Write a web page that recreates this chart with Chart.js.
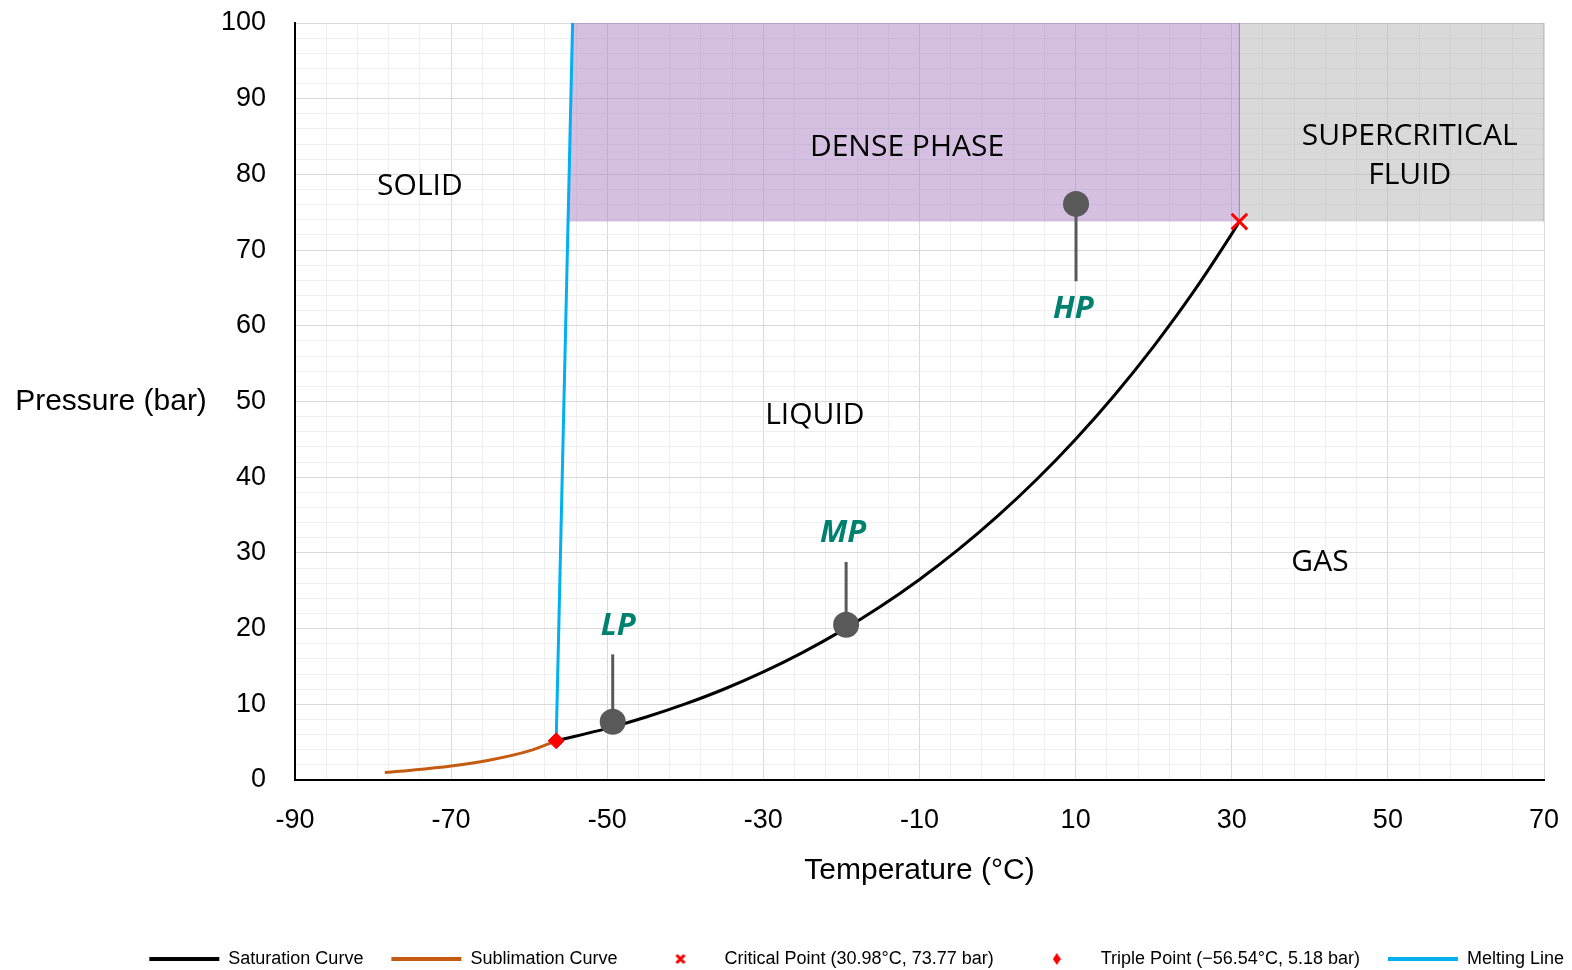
<!DOCTYPE html>
<html>
<head>
<meta charset="utf-8">
<title>CO2 phase diagram</title>
<script src="https://cdn.jsdelivr.net/npm/chart.js@4.4.1/dist/chart.umd.min.js"></script>
<style>
  html, body { margin: 0; padding: 0; background: #fff; }
  #wrap { width: 1572px; height: 970px; }
</style>
</head>
<body>
<div id="wrap"><canvas id="phaseChart" width="1572" height="970"></canvas></div>
<script>
// Saturation curve (liquid / vapour), °C and bar
const satTemp = [-56.54, -50, -45, -40, -35, -30, -25, -20, -15, -10, -5, 0, 5, 10, 15, 20, 25, 30, 30.98];
const satPress = [5.18, 6.82, 8.32, 10.05, 12.02, 14.28, 16.83, 19.7, 22.91, 26.49, 30.46, 34.85, 39.69, 45.02, 50.87, 57.29, 64.34, 72.14, 73.77];

// Sublimation curve
const subTemp = [-78.5, -75, -70, -65, -60, -56.54];
const subPress = [1.0, 1.3, 1.85, 2.65, 3.85, 5.18];

// Melting line
const meltTemp = [-56.54, -54.44];
const meltPress = [5.18, 100];

const criticalPoint = { x: 30.98, y: 73.77 };
const triplePoint = { x: -56.54, y: 5.18 };

// Dense phase / supercritical regions (corners)
const denseTemp = [-55.02, -54.44, 30.98, 30.98];
const densePress = [73.77, 100, 100, 73.77];
const superTemp = [30.98, 30.98, 70, 70];
const superPress = [73.77, 100, 100, 73.77];

// Operating points LP / MP / HP
const opNames = ['LP', 'MP', 'HP'];
const opTemp = [-49.3, -19.4, 10.05];
const opPress = [7.7, 20.5, 76.1];
const opStemEnd = [16.6, 28.8, 65.9];
const opLabelTemp = [-48.6, -19.8, 9.7];
const opLabelPress = [20.3, 32.6, 62.2];

// Region names
const regionNames = [['SOLID'], ['DENSE PHASE'], ['SUPERCRITICAL', 'FLUID'], ['LIQUID'], ['GAS']];
const regionTemp = [-74.0, -11.6, 52.8, -23.4, 41.3];
const regionPress = [78.4, 83.5, 82.4, 48.2, 28.8];

// Axes
const xMin = -90, xMax = 70, xStep = 4, xLabelStep = 20;
const yMin = 0, yMax = 100, yStep = 2, yLabelStep = 10;

const sans = '"Liberation Sans Narrow", "Arial Narrow", "Liberation Sans", Arial, sans-serif';
Chart.defaults.font.family = sans;
Chart.defaults.color = '#000';

function pts(xs, ys) {
    return xs.map((x, i) => ({ x: x, y: ys[i] }));
}

function makeIcon(w, h, draw) {
    const c = document.createElement('canvas');
    c.width = w;
    c.height = h;
    draw(c.getContext('2d'));
    return c;
}

const crossIcon = makeIcon(12, 12, g => {
    g.strokeStyle = '#ff0000';
    g.lineWidth = 3;
    g.beginPath();
    g.moveTo(2, 2); g.lineTo(10, 10);
    g.moveTo(10, 2); g.lineTo(2, 10);
    g.stroke();
});
const diamondIcon = makeIcon(8, 12, g => {
    g.fillStyle = '#ff0000';
    g.beginPath();
    g.moveTo(4, 0); g.lineTo(8, 6); g.lineTo(4, 12); g.lineTo(0, 6);
    g.closePath();
    g.fill();
});

const legendCount = 5;
const markerColor = '#595959';

const datasets = [
    {
        label: 'Saturation Curve',
        data: pts(satTemp, satPress),
        borderColor: '#000', backgroundColor: '#000',
        borderWidth: 3, pointRadius: 0, pointStyle: 'line',
        cubicInterpolationMode: 'monotone', order: 3
    },
    {
        label: 'Sublimation Curve',
        data: pts(subTemp, subPress),
        borderColor: '#c55a11', backgroundColor: '#c55a11',
        borderWidth: 3, pointRadius: 0, pointStyle: 'line',
        cubicInterpolationMode: 'monotone', order: 3
    },
    {
        label: 'Critical Point (30.98°C, 73.77 bar)',
        data: [criticalPoint],
        showLine: false, pointStyle: 'crossRot', pointRadius: 11,
        borderColor: '#ff0000', backgroundColor: '#ff0000', borderWidth: 3, order: 1
    },
    {
        label: 'Triple Point (\u221256.54°C, 5.18 bar)',
        data: [triplePoint],
        showLine: false, pointStyle: 'rectRot', pointRadius: 8,
        borderColor: '#ff0000', backgroundColor: '#ff0000', borderWidth: 1, order: 1
    },
    {
        label: 'Melting Line',
        data: pts(meltTemp, meltPress),
        borderColor: '#00b0f0', backgroundColor: '#00b0f0',
        borderWidth: 3, pointRadius: 0, pointStyle: 'line', order: 3
    },
    {
        label: 'points',
        data: pts(opTemp, opPress),
        showLine: false, pointRadius: 13,
        backgroundColor: markerColor, borderColor: markerColor, borderWidth: 0, order: 2
    },
    {
        label: 'dense',
        data: pts(denseTemp, densePress),
        fill: { value: criticalPoint.y },
        backgroundColor: 'rgba(171,129,197,0.5)', borderColor: 'rgba(150,110,180,0.35)',
        borderWidth: 1, pointRadius: 0, order: 10
    },
    {
        label: 'super',
        data: pts(superTemp, superPress),
        fill: { value: criticalPoint.y },
        backgroundColor: 'rgba(180,180,180,0.5)', borderColor: 'rgba(170,170,170,0.4)',
        borderWidth: 1, pointRadius: 0, order: 10
    }
];

// stems from the operating points to their labels
opTemp.forEach((t, i) => {
    datasets.push({
        label: 'stem ' + opNames[i],
        data: [{ x: t, y: opPress[i] }, { x: t, y: opStemEnd[i] }],
        borderColor: markerColor, borderWidth: 3, pointRadius: 0, order: 4
    });
});

const labelPlugin = {
    id: 'phaseLabels',
    afterLayout(chart) {
        // legend sits a little right of centre in the original
        chart.legend.left += 20;
        chart.legend.right += 20;
    },
    afterDatasetsDraw(chart) {
        const ctx = chart.ctx;
        const x = chart.scales.x, y = chart.scales.y;
        ctx.save();
        ctx.textAlign = 'center';
        ctx.textBaseline = 'middle';

        ctx.fillStyle = '#000';
        ctx.font = '30px "Open Sans"';
        regionNames.forEach((lines, i) => {
            const px = x.getPixelForValue(regionTemp[i]);
            const py = y.getPixelForValue(regionPress[i]);
            lines.forEach((t, j) => {
                ctx.fillText(t, px, py + (j - (lines.length - 1) / 2) * 39);
            });
        });

        ctx.fillStyle = '#00806f';
        ctx.font = 'italic bold 31px "Open Sans"';
        opNames.forEach((name, i) => {
            ctx.fillText(name, x.getPixelForValue(opLabelTemp[i]), y.getPixelForValue(opLabelPress[i]));
        });

        // horizontal y axis title
        ctx.fillStyle = '#000';
        ctx.font = '30px "Liberation Sans", Arial, sans-serif';
        ctx.fillText('Pressure (bar)', chart.chartArea.left - 184, y.getPixelForValue(50));
        ctx.restore();
    }
};

new Chart(document.getElementById('phaseChart'), {
    type: 'line',
    data: { datasets: datasets },
    options: {
        responsive: false,
        animation: false,
        events: [],
        layout: { padding: { left: 0, right: 0, top: 23, bottom: 0 } },
        scales: {
            x: {
                type: 'linear', min: xMin, max: xMax,
                afterFit: s => { s.height = 142; s.paddingLeft = 0; s.paddingRight = 0; },
                ticks: {
                    stepSize: xStep, autoSkip: false, maxRotation: 0, padding: 24,
                    font: { size: 27 }, color: '#000',
                    callback: v => ((v - xMin) % xLabelStep === 0 ? String(v) : '')
                },
                grid: {
                    drawTicks: false,
                    color: c => (c.tick && (c.tick.value - xMin) % xLabelStep === 0 ? '#d9d9d9' : '#efefef')
                },
                border: { color: '#000', width: 2 },
                title: {
                    display: true, text: 'Temperature (°C)', color: '#000',
                    font: { size: 30 }, padding: { top: 0, bottom: 33 }
                }
            },
            y: {
                type: 'linear', min: yMin, max: yMax,
                afterFit: s => { s.width = 295; s.paddingTop = 0; s.paddingBottom = 0; },
                ticks: {
                    stepSize: yStep, autoSkip: false, padding: 29,
                    font: { size: 27 }, color: '#000',
                    callback: v => (v % yLabelStep === 0 ? String(v) : '')
                },
                grid: {
                    drawTicks: false,
                    color: c => (c.tick && c.tick.value % yLabelStep === 0 ? '#d9d9d9' : '#efefef')
                },
                border: { color: '#000', width: 2 }
            },
            yRight: {
                position: 'right',
                afterFit: s => { s.width = 28; s.paddingTop = 0; s.paddingBottom = 0; },
                ticks: { display: false },
                grid: { display: false, drawTicks: false },
                border: { display: false }
            }
        },
        plugins: {
            tooltip: { enabled: false },
            legend: {
                position: 'bottom',
                align: 'end',
                maxHeight: 48,
                labels: {
                    usePointStyle: true,
                    pointStyleWidth: 70,
                    boxHeight: 8,
                    padding: 28,
                    color: '#000',
                    font: { size: 18 },
                    filter: item => item.datasetIndex < legendCount,
                    sort: (a, b) => a.datasetIndex - b.datasetIndex,
                    generateLabels(chart) {
                        const items = Chart.defaults.plugins.legend.labels.generateLabels(chart);
                        items.forEach(it => {
                            if (it.datasetIndex === 2) it.pointStyle = crossIcon;
                            if (it.datasetIndex === 3) it.pointStyle = diamondIcon;
                            if (it.pointStyle === 'line') it.lineWidth = 4;
                        });
                        return items;
                    }
                }
            }
        }
    },
    plugins: [labelPlugin]
});
</script>
</body>
</html>
